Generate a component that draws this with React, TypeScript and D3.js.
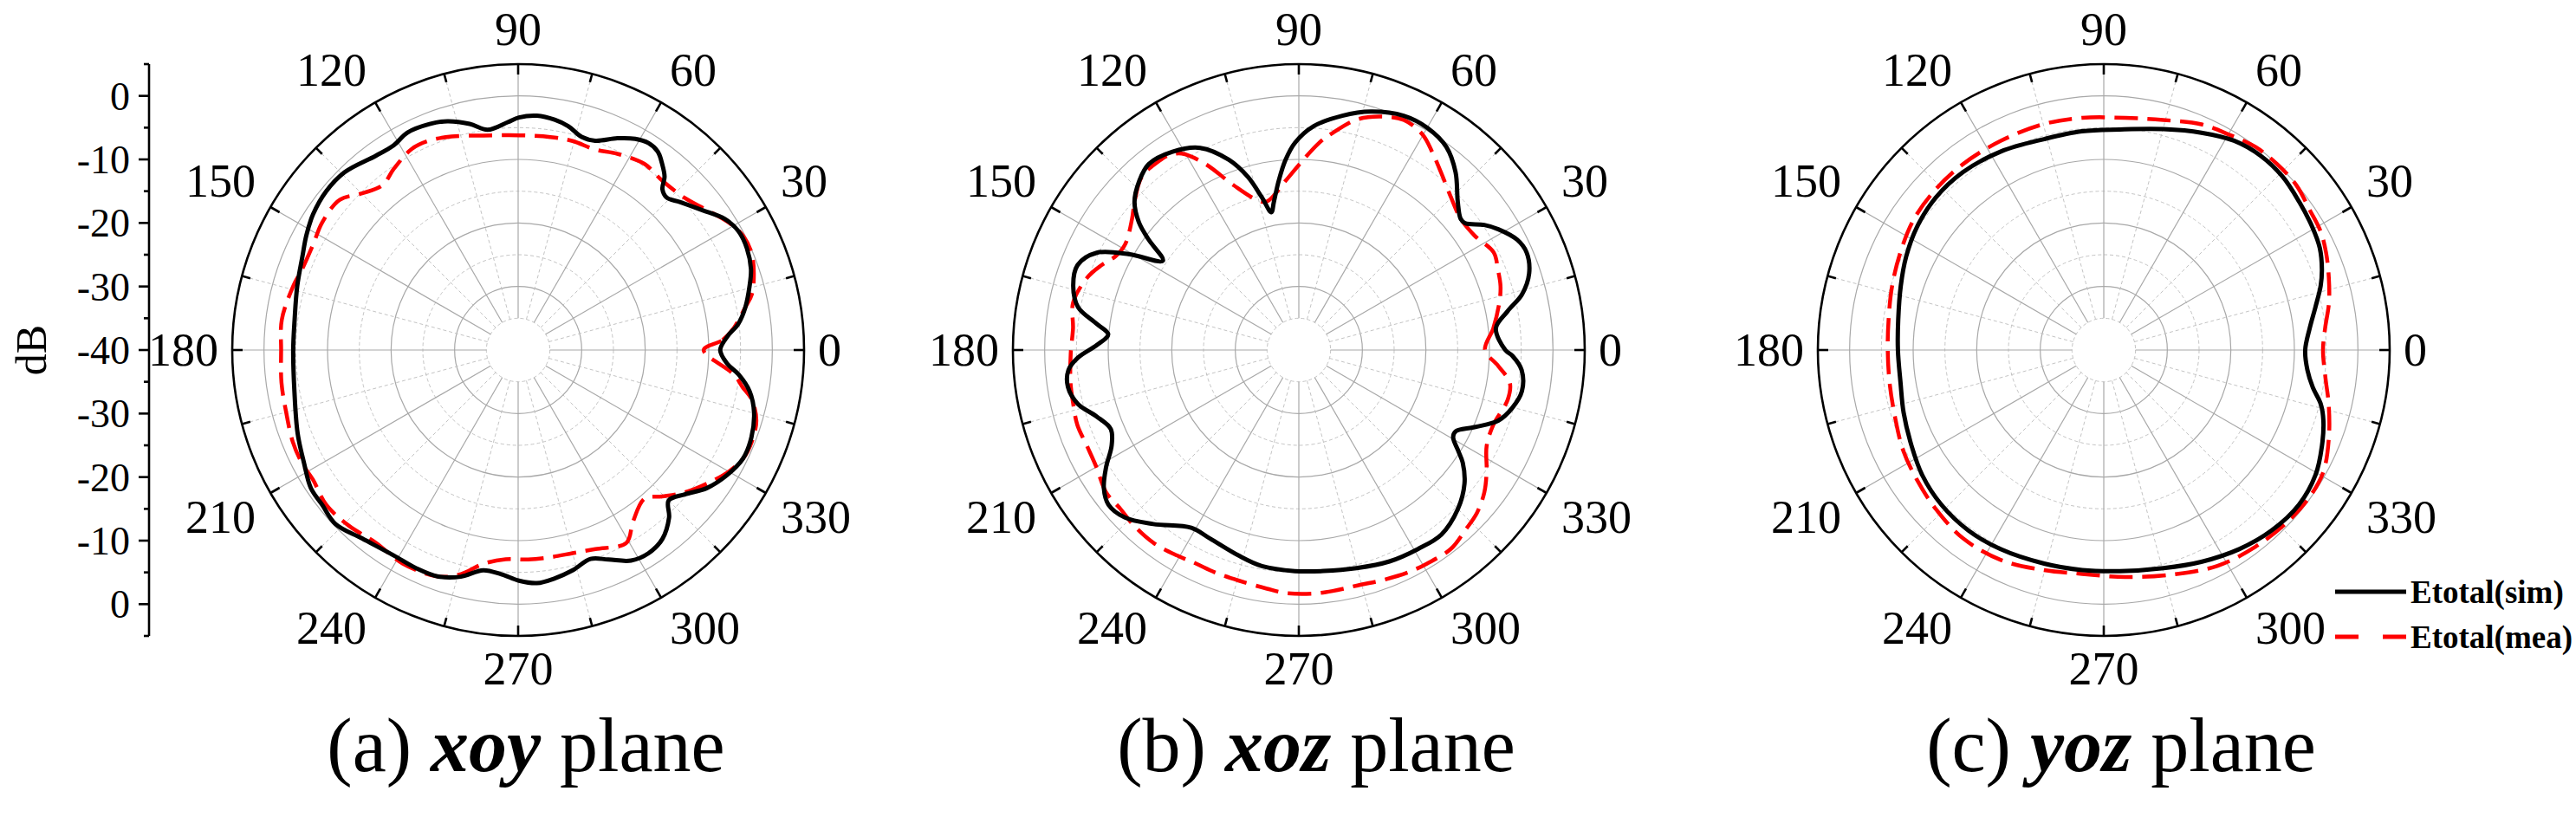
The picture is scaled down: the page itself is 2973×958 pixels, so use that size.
import * as d3 from 'd3';

const WIDTH = 2973;
const HEIGHT = 958;
const CENTER_Y = 404;
const OUTER_R = 330;
const PANEL_X = [598, 1499, 2428];
const TITLE_X = [607, 1519, 2448];

// radial axis in dB, +5 at the rim, -40 at the centre
const DB_MIN = -40;
const DB_MAX = 5;
const SOLID_RINGS = [-30, -20, -10, 0];
const DASHED_RINGS = [-35, -25, -15, -5];
const ANGLE_LABELS = ['0', '30', '60', '90', '120', '150', '180', '210', '240', '270', '300', '330'];
const DB_MAJOR = [0, -10, -20, -30];
const DB_MINOR = [5, -5, -15, -25, -35];

// (a) xoy plane
const xoySimDeg = [0, 3.7, 6.8, 10.7, 15.5, 19.2, 24, 28.3, 32.4, 37.2, 42.5, 45.7, 48.1, 49.8, 52.2, 54.9, 57.8, 61, 64.9, 69.8, 73.4, 77.4, 81, 85.4, 89.8, 92.6, 97.9, 102.1, 107.2, 111.4, 117, 121.3, 126.2, 134.3, 140.4, 146.5, 151.6, 156.6, 163.8, 172.3, 180, 190.4, 200.7, 207.8, 213.7, 218.3, 223.6, 230.4, 238.8, 245, 250.6, 255.8, 261, 265.7, 270.2, 274.6, 279.1, 284, 289.1, 293.3, 298.2, 302.7, 307.4, 312, 315, 319.1, 323.8, 329, 334.2, 339.5, 345.2, 349.9, 353.7, 356.2];
const xoySimDb = [-8.2, -7.0, -5.1, -3.6, -2.2, -1.2, -0.6, -0.6, -1.5, -3.6, -5.5, -6.5, -6.0, -4.3, -3.0, -1.8, -1.5, -2.0, -3.2, -4.9, -5.0, -3.9, -3.3, -3.0, -3.4, -4.1, -5.0, -3.6, -2.3, -1.8, -1.6, -2.3, -2.1, -0.9, -0.8, -1.3, -2.1, -3.0, -3.8, -4.5, -4.6, -4.2, -2.9, -1.9, -0.8, -0.7, -0.3, -1.5, -2.2, -2.1, -2.2, -3.2, -4.9, -4.6, -3.7, -3.2, -3.6, -4.3, -5.2, -4.1, -2.4, -2.0, -2.6, -4.5, -6.5, -5.3, -3.2, -1.7, -0.7, -0.8, -1.6, -3.0, -5.1, -7.0];
const xoyMeaDeg = [0, 2.8, 5.8, 10.7, 13.4, 18, 22.7, 27, 31, 36.5, 42.4, 49.6, 55.9, 63.2, 69, 75.4, 81.4, 89.7, 99.2, 107.3, 113, 117.9, 124.4, 129.4, 134.9, 139.9, 147, 152.6, 159.5, 164.1, 172.7, 180, 187.9, 195, 202.2, 207.6, 212.3, 218.9, 226.1, 233.5, 241.6, 250.6, 255.7, 260.7, 266.6, 272.7, 278.8, 285, 291.2, 299.3, 303.8, 310.4, 314.5, 319.5, 324.7, 330.1, 334.2, 338.6, 343.5, 348, 350.6, 353.5];
const xoyMeaDb = [-10.8, -7.8, -5.9, -3.6, -2.2, -1.0, -0.2, -0.3, -1.2, -3.0, -4.5, -5.0, -4.6, -5.4, -6.2, -6.0, -6.1, -6.2, -5.8, -4.8, -4.2, -4.2, -5.4, -6.4, -5.2, -3.3, -3.2, -3.7, -3.7, -3.2, -2.5, -2.7, -2.4, -2.2, -1.7, -1.6, -1.8, -1.2, -1.6, -2.3, -1.8, -2.2, -3.6, -5.9, -7.0, -7.0, -7.0, -6.9, -6.4, -5.2, -7.5, -9.3, -7.7, -5.5, -3.6, -1.7, -0.7, -0.5, -0.9, -2.4, -4.2, -5.8];

// (b) xoz plane
const xozSimDeg = [0, 6.3, 10.5, 14, 18.4, 23.2, 26.8, 31.2, 34, 37.4, 39.1, 43, 48.6, 54, 59.9, 65.9, 73.2, 79.5, 86.2, 91.1, 94, 96.8, 99.6, 101.3, 103.6, 106.4, 110.2, 116, 122.5, 128.9, 133.3, 138, 141.5, 143.7, 146.7, 150.5, 154.3, 159, 164.2, 169, 172.6, 175.3, 178.6, 182, 185, 189.1, 193.7, 198.2, 202.8, 207.1, 211.3, 215.3, 219.1, 223.9, 230.1, 238.8, 244.8, 253.6, 260.3, 269, 276.4, 284.8, 293.2, 300.9, 307.7, 315, 321.1, 325.5, 327.8, 330.5, 332.6, 336.3, 340.5, 344.8, 349.5, 354.9, 358.5];
const xozSimDb = [-7.5, -8.8, -6.6, -3.8, -1.8, -1.0, -1.5, -3.3, -4.8, -7.1, -7.2, -5.8, -2.7, -0.5, 0.4, 0.4, -0.8, -2.5, -4.7, -7.4, -10.0, -13.2, -16.4, -17.9, -15.3, -11.6, -8.1, -4.6, -3.0, -2.4, -3.4, -5.2, -7.9, -10.7, -14.4, -9.4, -4.7, -2.7, -3.1, -4.6, -7.9, -9.9, -8.2, -5.2, -3.6, -3.2, -4.2, -6.5, -7.9, -6.9, -4.5, -2.4, -1.4, -2.0, -4.3, -7.3, -7.2, -6.3, -5.5, -5.2, -5.0, -4.5, -3.8, -3.5, -3.3, -4.6, -6.5, -8.7, -10.4, -12.1, -12.2, -9.8, -6.7, -5.2, -4.3, -4.8, -6.4];
const xozMeaDeg = [0, 6.4, 13.2, 17.6, 22.1, 26.6, 33.1, 39.1, 45, 51.3, 56.1, 60.1, 65.5, 70.8, 75.9, 81.1, 84.5, 89.7, 94.5, 102.2, 105.5, 111.6, 116.7, 120.8, 124, 126.8, 132.2, 138, 141.8, 148.6, 152.9, 156.7, 161.1, 168.2, 174.5, 180.8, 188.2, 193.4, 198.7, 204.4, 210, 216.4, 221.7, 226.9, 233, 239.3, 244.3, 249.3, 255.3, 262.4, 266.9, 273.5, 278, 284.9, 289.4, 296.3, 301, 307.4, 312.7, 317.5, 322.5, 327.1, 332.9, 339, 346.7, 351.2, 355.4];
const xozMeaDb = [-10.7, -9.2, -7.6, -6.7, -6.2, -5.7, -7.0, -7.2, -6.1, -4.2, -2.4, -0.9, -0.2, -1.1, -2.6, -5.4, -7.3, -10.7, -13.3, -16.1, -15.5, -12.1, -7.2, -4.0, -3.1, -3.0, -3.2, -5.2, -6.6, -8.0, -7.6, -6.2, -4.8, -3.7, -4.3, -4.1, -3.7, -3.5, -3.2, -3.4, -3.2, -2.3, -2.4, -2.1, -2.0, -2.4, -2.7, -2.6, -2.5, -2.1, -1.7, -1.6, -1.7, -1.8, -1.5, -1.0, -0.8, -0.6, -1.4, -2.0, -3.2, -4.8, -6.8, -7.2, -6.2, -6.4, -8.5];

// (c) yoz plane
const yozSimDeg = [0, 6.1, 11.5, 16.5, 20.3, 25.3, 30.5, 37.2, 44.1, 51.1, 58.1, 65.8, 74.9, 85.8, 95.7, 105.8, 117.4, 128.4, 137.8, 146.7, 154.7, 162.5, 171.6, 180, 189.2, 197.3, 206.5, 214.6, 223.6, 233.1, 242.6, 254.4, 264.4, 274.2, 285.3, 294.7, 304.2, 313, 321.6, 329.4, 336.3, 342.2, 346, 349.9, 354.4];
const yozSimDb = [-8.3, -7.4, -6.0, -4.4, -3.4, -2.4, -1.9, -1.4, -0.8, -0.7, -1.2, -2.5, -4.0, -5.2, -5.4, -5.5, -4.8, -4.3, -4.3, -4.8, -5.6, -6.5, -7.3, -7.6, -7.6, -7.0, -6.2, -5.3, -4.7, -4.5, -4.7, -5.1, -5.2, -5.1, -4.4, -3.3, -2.1, -1.2, -0.8, -1.3, -2.5, -3.7, -4.8, -6.6, -7.8];
const yozMeaDeg = [0, 5.6, 11.8, 17.8, 23.7, 28.7, 34.2, 40.6, 47, 53.2, 60, 66.6, 75.5, 84.7, 95.3, 104.8, 116.2, 127.1, 136.3, 145.3, 154.4, 163.2, 172, 180, 188.7, 197.7, 206.5, 214.7, 223.4, 233.3, 243.9, 254.8, 264.5, 275.4, 287.4, 297.8, 307.6, 317.1, 324.6, 331.1, 338.8, 346.5, 352.6];
const yozMeaDb = [-5.5, -5.0, -3.8, -2.8, -1.8, -1.1, -0.8, -0.1, 0.0, -0.1, -0.8, -1.3, -2.6, -3.3, -3.3, -3.2, -3.3, -3.3, -3.4, -3.7, -4.5, -5.2, -5.8, -6.0, -5.9, -5.5, -4.7, -4.2, -3.6, -3.0, -3.2, -4.1, -4.6, -4.1, -3.0, -1.6, -0.9, -0.4, -0.2, -0.5, -2.0, -3.6, -4.8];

const SERIES_NAMES = ['Etotal(sim)', 'Etotal(mea)'];
const PANEL_TAGS = ['(a) ', '(b) ', '(c) '];
const PANEL_PLANES = ['xoy', 'xoz', 'yoz'];

const panels = [
  { sim: d3.zip(xoySimDeg, xoySimDb), mea: d3.zip(xoyMeaDeg, xoyMeaDb) },
  { sim: d3.zip(xozSimDeg, xozSimDb), mea: d3.zip(xozMeaDeg, xozMeaDb) },
  { sim: d3.zip(yozSimDeg, yozSimDb), mea: d3.zip(yozMeaDeg, yozMeaDb) },
];

const rScale = d3.scaleLinear().domain([DB_MIN, DB_MAX]).range([0, OUTER_R]);

const radialLine = d3
  .lineRadial<number[]>()
  .angle(d => ((90 - d[0]) * Math.PI) / 180)
  .radius(d => rScale(d[1]))
  .curve(d3.curveCatmullRomClosed.alpha(0.5));

const LABEL_FONT = '"Liberation Serif", "Times New Roman", serif';
const CAP = 36;

const Polar = ({ cx, sim, mea, showLegend }: any) => {
  const spokes = d3.range(0, 360, 15);
  const labels = ANGLE_LABELS.map((t, i) => {
    const deg = i * 30;
    const a = (deg * Math.PI) / 180;
    const c = Math.cos(a);
    const s = Math.sin(a);
    const R = Math.abs(s) < 0.01 ? 346 : 350;
    const x = R * c;
    const y = -R * s;
    const anchor = c > 0.01 ? 'start' : c < -0.01 ? 'end' : 'middle';
    const by = s > 0.01 ? y - 2 : s < -0.01 ? y + CAP : y + CAP / 2;
    return (
      <text key={t} x={x} y={by} textAnchor={anchor} fontSize={54} fontFamily={LABEL_FONT} fill="#000">
        {t}
      </text>
    );
  });

  return (
    <g transform={`translate(${cx},${CENTER_Y})`}>
      {DASHED_RINGS.map(v => (
        <circle key={`d${v}`} r={rScale(v)} fill="none" stroke="#c4c4c4" strokeWidth={1} strokeDasharray="4 3" />
      ))}
      {SOLID_RINGS.map(v => (
        <circle key={`s${v}`} r={rScale(v)} fill="none" stroke="#a8a8a8" strokeWidth={1.2} />
      ))}
      {spokes.map(deg => {
        const a = (deg * Math.PI) / 180;
        const major = deg % 30 === 0;
        return (
          <line
            key={`sp${deg}`}
            x1={rScale(-35) * Math.cos(a)}
            y1={-rScale(-35) * Math.sin(a)}
            x2={OUTER_R * Math.cos(a)}
            y2={-OUTER_R * Math.sin(a)}
            stroke={major ? '#a8a8a8' : '#c4c4c4'}
            strokeWidth={major ? 1.2 : 1}
            strokeDasharray={major ? undefined : '4 3'}
          />
        );
      })}
      <circle r={OUTER_R} fill="none" stroke="#000" strokeWidth={2.6} />
      {spokes.map(deg => {
        const a = (deg * Math.PI) / 180;
        const len = deg % 30 === 0 ? 12 : 10;
        return (
          <line
            key={`tk${deg}`}
            x1={(OUTER_R - len) * Math.cos(a)}
            y1={-(OUTER_R - len) * Math.sin(a)}
            x2={OUTER_R * Math.cos(a)}
            y2={-OUTER_R * Math.sin(a)}
            stroke="#000"
            strokeWidth={2.6}
          />
        );
      })}
      {labels}
      <path d={radialLine(mea) || ''} fill="none" stroke="#ff0000" strokeWidth={4.5} strokeDasharray="27 11" />
      <path d={radialLine(sim) || ''} fill="none" stroke="#000" strokeWidth={5} strokeLinejoin="round" />
      {showLegend && (
        <g fontFamily={LABEL_FONT} fontWeight="bold" fontSize={37}>
          <line x1={2695 - cx} x2={2777 - cx} y1={683 - CENTER_Y} y2={683 - CENTER_Y} stroke="#000" strokeWidth={5} />
          <text x={2782 - cx} y={696 - CENTER_Y}>{SERIES_NAMES[0]}</text>
          <line x1={2695 - cx} x2={2777 - cx} y1={735 - CENTER_Y} y2={735 - CENTER_Y} stroke="#ff0000" strokeWidth={5} strokeDasharray="27 28" />
          <text x={2782 - cx} y={748 - CENTER_Y}>{SERIES_NAMES[1]}</text>
        </g>
      )}
    </g>
  );
};

const DbAxis = () => {
  const upper = d3.scaleLinear().domain([DB_MAX, DB_MIN]).range([74, CENTER_Y]);
  const lower = d3.scaleLinear().domain([DB_MIN, DB_MAX]).range([CENTER_Y, 734]);
  const AX = 172;
  const majors = [...DB_MAJOR.map(v => ({ v, y: upper(v) })), { v: DB_MIN, y: CENTER_Y }, ...DB_MAJOR.map(v => ({ v, y: lower(v) }))];
  const minors = [...DB_MINOR.map(v => upper(v)), ...DB_MINOR.map(v => lower(v))];
  return (
    <g>
      <line x1={AX} x2={AX} y1={upper(DB_MAX)} y2={lower(DB_MAX)} stroke="#000" strokeWidth={2.6} />
      {minors.map((y, i) => (
        <line key={`m${i}`} x1={AX - 6} x2={AX} y1={y} y2={y} stroke="#000" strokeWidth={2.6} />
      ))}
      {majors.map((d, i) => (
        <g key={`M${i}`}>
          <line x1={AX - 12} x2={AX} y1={d.y} y2={d.y} stroke="#000" strokeWidth={2.6} />
          <text x={150} y={d.y + 16} textAnchor="end" fontSize={46} fontFamily={LABEL_FONT}>
            {String(d.v)}
          </text>
        </g>
      ))}
      <text transform={`translate(53,${CENTER_Y}) rotate(-90)`} textAnchor="middle" fontSize={50} fontFamily={LABEL_FONT}>
        dB
      </text>
    </g>
  );
};

export default function App() {
  return (
    <svg
      width={WIDTH}
      height={HEIGHT}
      viewBox={`0 0 ${WIDTH} ${HEIGHT}`}
      style={{ position: 'absolute', left: 0, top: 0, background: '#fff', display: 'block' }}
    >
      <rect width={WIDTH} height={HEIGHT} fill="#fff" />
      <DbAxis />
      {panels.map((p, i) => (
        <Polar key={i} cx={PANEL_X[i]} sim={p.sim} mea={p.mea} showLegend={i === 2} />
      ))}
      {PANEL_TAGS.map((tag, i) => (
        <text key={tag} x={TITLE_X[i]} y={890} textAnchor="middle" fontSize={88} fontFamily={LABEL_FONT}>
          {tag}
          <tspan fontWeight="bold" fontStyle="italic">{PANEL_PLANES[i]}</tspan>
          {' plane'}
        </text>
      ))}
    </svg>
  );
}
